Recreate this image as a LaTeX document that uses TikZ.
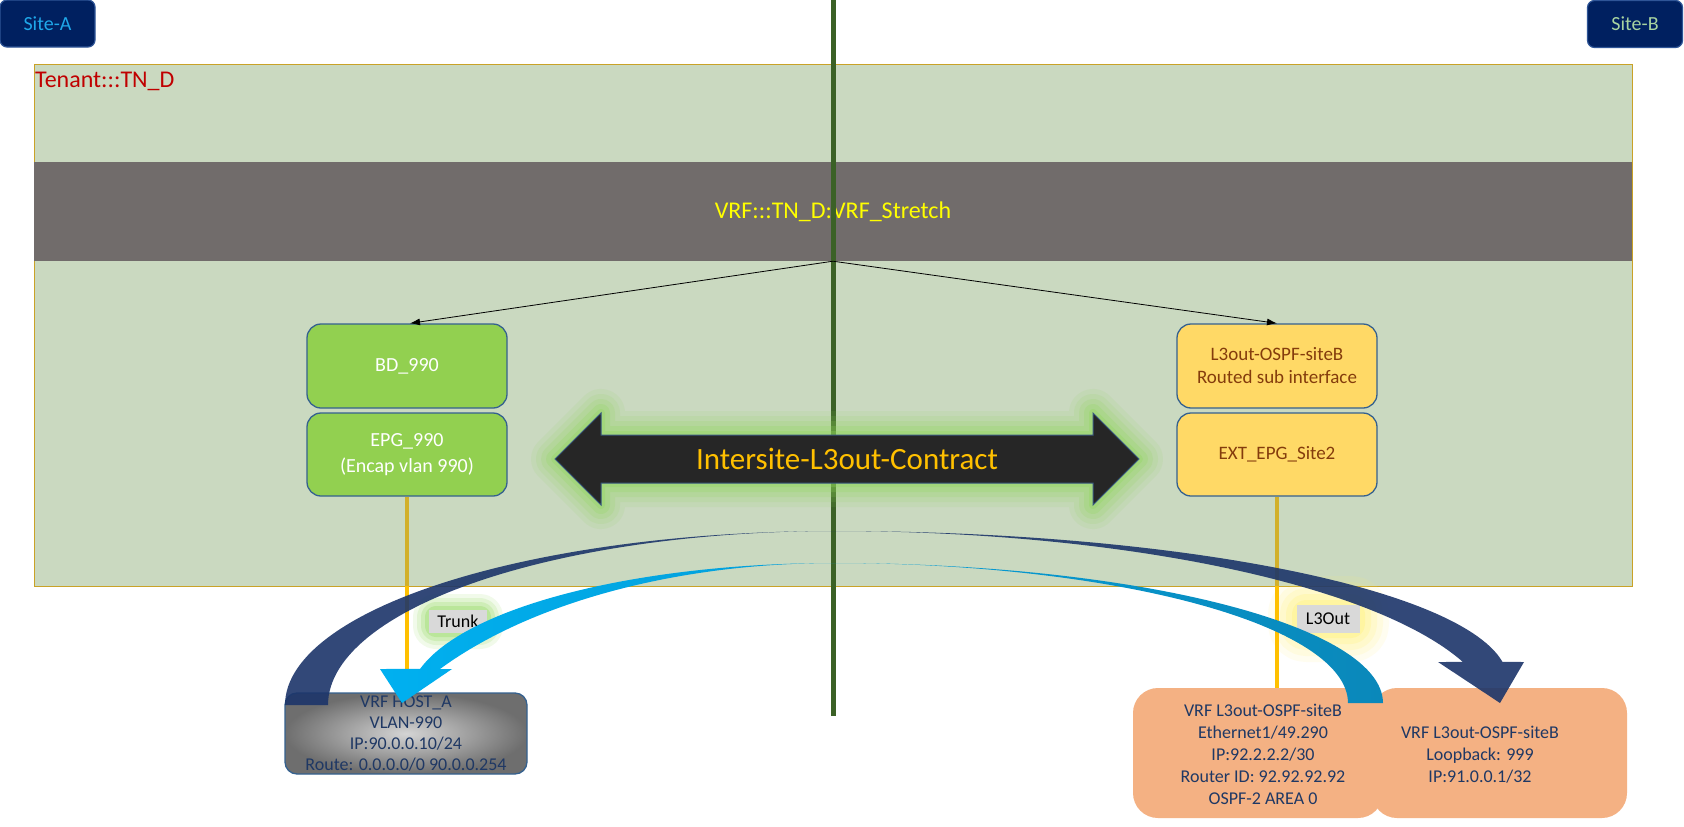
\documentclass[tikz,border=0pt]{standalone}
\usepackage{fontspec}
\setmainfont{Carlito}
\usetikzlibrary{arrows.meta}
\definecolor{sitefill}{HTML}{002060}
\definecolor{siteborder}{HTML}{2F5597}
\definecolor{siteAtext}{HTML}{1FA8EA}
\definecolor{siteBtext}{HTML}{A8D4A0}
\definecolor{tenantfill}{HTML}{CAD9C0}
\definecolor{tenantborder}{HTML}{C9A227}
\definecolor{tenanttext}{HTML}{C00000}
\definecolor{vrfgray}{HTML}{716C6B}
\definecolor{vrftext}{HTML}{FFFF00}
\definecolor{divider}{HTML}{3B6126}
\definecolor{bdgreen}{HTML}{92D050}
\definecolor{boxborder}{HTML}{35618F}
\definecolor{l3yellow}{HTML}{FFD966}
\definecolor{l3text}{HTML}{843C0C}
\definecolor{arrowdark}{HTML}{262626}
\definecolor{arrowborder}{HTML}{3A5A80}
\definecolor{glowgreen}{HTML}{8FD65A}
\definecolor{glowyellow}{HTML}{FFF170}
\definecolor{contracttext}{HTML}{FFC000}
\definecolor{hostinner}{HTML}{D4D4D4}
\definecolor{hostouter}{HTML}{6E6E6E}
\definecolor{hosttext}{HTML}{1F3864}
\definecolor{orangefill}{HTML}{F4B183}
\definecolor{gold}{HTML}{FFC000}
\definecolor{golddark}{HTML}{D2B02A}
\definecolor{navyarc}{HTML}{1C356A}
\definecolor{cyanA}{HTML}{00B0F0}
\definecolor{cyanB}{HTML}{0A88BA}
\definecolor{lblgray}{HTML}{D9D9D9}
\tikzset{
  sitebox/.style={draw=siteborder, line width=1.2pt, fill=sitefill, rounded corners=7pt,
    minimum width=95pt, minimum height=47pt, inner sep=0pt, font=\fontsize{20}{24}\selectfont},
  greenbox/.style={draw=boxborder, line width=1.3pt, fill=bdgreen, rounded corners=14pt,
    minimum width=200pt, minimum height=84pt, inner sep=0pt, text=white, align=center,
    font=\fontsize{20}{26}\selectfont},
  yellowbox/.style={greenbox, fill=l3yellow, text=l3text, font=\fontsize{19}{23}\selectfont},
  hostbox/.style={draw=boxborder, line width=1.3pt, rounded corners=12pt, inner color=hostinner,
    outer color=hostouter, minimum width=242pt, minimum height=81pt, inner sep=0pt,
    text=hosttext, align=center, font=\fontsize{18}{21}\selectfont},
  orangebox/.style={fill=orangefill, rounded corners=25pt, minimum width=250pt,
    minimum height=130pt, inner sep=0pt},
  ortext/.style={text=hosttext, align=center, font=\fontsize{18}{22}\selectfont, inner sep=0pt},
  lbl/.style={fill=lblgray, inner sep=0pt, font=\fontsize{18}{20}\selectfont},
  vrfarrow/.style={-{Latex[length=10pt,width=7pt]}, line width=0.8pt, draw=black},
  goldline/.style={line width=4pt, draw=gold},
  goldin/.style={line width=4pt, draw=golddark}
}
\newcommand\dblpath{(555,459) -- (601,413) -- (601,435) -- (1093,435) -- (1093,413) -- (1139,459) -- (1093,505) -- (1093,483) -- (601,483) -- (601,505) -- cycle}
\begin{document}
\begin{tikzpicture}[x=1pt,y=-1pt]
\useasboundingbox[fill=white] (0,0) rectangle (1684,827);

% tenant
\node[fill=tenantfill, draw=tenantborder, line width=0.9pt, minimum width=1598pt, minimum height=522pt, inner sep=0pt] (tenant) at (833,325) {};
\node[anchor=base west, inner sep=0pt, text=tenanttext, font=\fontsize{24}{28}\selectfont] (tenantlbl) at (35,87) {Tenant:::TN\_D};

% VRF bar
\node[fill=vrfgray, minimum width=1598pt, minimum height=99pt, inner sep=0pt, text=vrftext, font=\fontsize{24}{28}\selectfont] (vrf) at (833,211.5) {VRF:::TN\_D:VRF\_Stretch};

% divider
\coordinate (divtop) at (833,0);
\coordinate (divbot) at (833,716);
\draw[divider, line width=5pt] (divtop) -- (divbot);

% EPG / BD boxes
\node[greenbox] (BD) at (407,366) {BD\_990};
\node[greenbox, minimum height=83pt] (EPG) at (407,454.5) {EPG\_990\\(Encap vlan 990)};
\node[yellowbox] (L3) at (1277,366) {L3out-OSPF-siteB\\Routed sub interface};
\node[yellowbox, minimum height=83pt] (EXT) at (1277,454.5) {EXT\_EPG\_Site2};

\draw[vrfarrow] (vrf.south) -- ([xshift=3pt]BD.north);
\draw[vrfarrow] (vrf.south) -- (L3.north);

% contract double arrow with glow
\foreach \w/\o in {48/0.10, 38/0.13, 28/0.17, 18/0.22, 8/0.30}
  \draw[draw=glowgreen, line width=\w pt, opacity=\o, line join=round] \dblpath;
\draw[fill=arrowdark, draw=arrowborder, line width=1pt] \dblpath;
\node[text=contracttext, font=\fontsize{31}{36}\selectfont, inner sep=0pt] (contract) at (847,459) {Intersite-L3out-Contract};

% host box
\node[hostbox] (host) at (406,733.5) {VRF HOST\_A\\VLAN-990\\IP:90.0.0.10/24\\Route: 0.0.0.0/0 90.0.0.254};

% orange boxes
\node[orangebox, minimum width=255pt] (orR) at (1499.5,753) {};
\node[orangebox] (orL) at (1258,753) {};
\node[ortext] (orLtxt) at (1263,754) {VRF L3out-OSPF-siteB\\Ethernet1/49.290\\IP:92.2.2.2/30\\Router ID: 92.92.92.92\\OSPF-2 AREA 0};
\node[ortext] (orRtxt) at (1480,755) {VRF L3out-OSPF-siteB\\Loopback: 999\\IP:91.0.0.1/32};

% label glows
\foreach \w/\o in {34/0.12, 26/0.16, 18/0.22, 10/0.3}
  \draw[draw=glowgreen, line width=\w pt, opacity=\o, rounded corners=6pt, line join=round] (430,611) rectangle (486,632);
\foreach \w/\o in {60/0.10, 48/0.13, 36/0.17, 24/0.22, 12/0.3}
  \draw[draw=glowyellow, line width=\w pt, opacity=\o, rounded corners=8pt, line join=round] (1298,606) rectangle (1359,632);
\node[lbl, minimum width=58pt, minimum height=23pt] (trunk) at (458,621.5) {Trunk};
\node[lbl, minimum width=63pt, minimum height=28pt] (l3out) at (1328,619) {L3Out};

% gold lines
\draw[goldin] (EPG.south) -- (EPG.south |- tenant.south);
\draw[goldline] (EPG.south |- tenant.south) -- (EPG.south |- host.north);
\draw[goldin] (EXT.south) -- (EXT.south |- tenant.south);
\draw[goldline] (EXT.south |- tenant.south) -- (EXT.south |- orL.north);

% navy curved arrow (elliptical band, zero thickness at the top)
\fill[navyarc, opacity=0.9]
  plot[domain=180:270, samples=60, variable=\t] ({834+549*cos(\t)}, {705+174*sin(\t)})
  -- plot[domain=270:352.7, samples=60, variable=\t] ({834+674*cos(\t)}, {681+150*sin(\t)})
  -- (1524,662) -- (1500,703) -- (1438,662)
  -- plot[domain=341.9:270, samples=60, variable=\t] ({834+661.7*cos(\t)}, {721+190*sin(\t)})
  -- plot[domain=270:180, samples=60, variable=\t] ({834+506*cos(\t)}, {705+174*sin(\t)})
  -- cycle;

% cyan curved arrow
\shade[left color=cyanA, middle color=cyanA, right color=cyanB]
  plot[domain=360:270, samples=60, variable=\t] ({834+549*cos(\t)}, {703+140*sin(\t)})
  -- plot[domain=270:193.1, samples=60, variable=\t] ({834+425*cos(\t)}, {700+137*sin(\t)})
  -- (380,669) -- (402,703) -- (452,669)
  -- plot[domain=215.17:270, samples=60, variable=\t] ({834+482*cos(\t)}, {813+250*sin(\t)})
  -- plot[domain=270:360, samples=60, variable=\t] ({834+514*cos(\t)}, {703+140*sin(\t)})
  -- cycle;

% site boxes
\node[sitebox, text=siteAtext] (siteA) at (47.5,23.5) {Site-A};
\node[sitebox, text=siteBtext] (siteB) at (1635,24) {Site-B};
\end{tikzpicture}
\end{document}
